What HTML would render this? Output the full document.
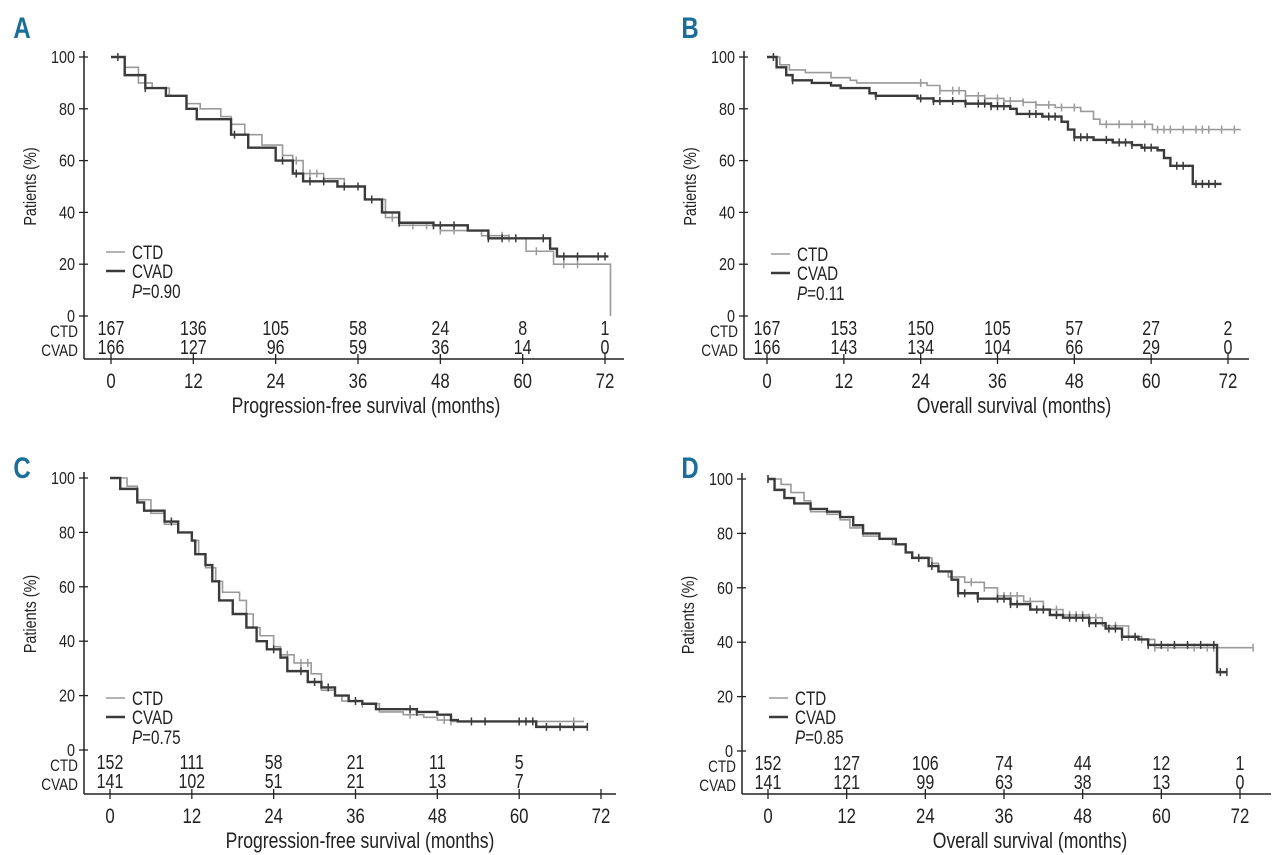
<!DOCTYPE html>
<html><head><meta charset="utf-8">
<style>
html,body{margin:0;padding:0;background:#fff;}
svg{display:block;font-family:"Liberation Sans",sans-serif;}
</style></head>
<body>
<svg id="fig" width="1280" height="855" viewBox="0 0 1280 855" xmlns="http://www.w3.org/2000/svg"></svg>
<script>
// ---- Panel A data (PFS) ----
const aCtdT = [0,2,4,6,8.5,11,13,16,17.5,19.5,22,25,26.5,28,31,34,37,40,42,48,54,58,60.5,64.5,72.8];
const aCtdS = [100,96,90,88,85,82,80,77,74,70,66,62,60,55,53,50,45,38,35,33,31,30,25,20,0];
const aCtdC = [27,29,30,41,44,46,48,50,57,58,62,66,68];
const aCvadT = [0,2,5,8,11,12.5,15,17.5,20,24,26.5,28,33,37,39.5,42,47,52,55,63.5,64,65,72.5];
const aCvadS = [100,93,88,85,80,76,76,70,65,60,55,52,50,45,40,36,35,33,30,30,26,23,23];
const aCvadC = [1,5,18,25,27,29,31,34,36,38,42,47,48,50,55,57,59,63,66,68,71,72];
const aAtRiskCtd = [167,136,105,58,24,8,1];
const aAtRiskCvad = [166,127,96,59,36,14,0];
// ---- Panel B data (OS) ----
const bCtdT = [0,2,3.5,6,10,13,14,24,25,27,31,34,37,40,42,45,49,51,52,60,60.2,74];
const bCtdS = [100,97,95,94,92,91,90,90,89,87,85,84,83,82.5,81.5,80.5,79,76,74,74,72,72];
const bCtdC = [24,27,29,30,31,33,34,36,38,40,42,44,46,48,53,55,57,59,61,62,63,65,67,68,69,71,73];
const bCvadT = [0,1.5,3,4,7,10,11.5,16,17,22,23.5,26,31,35,38,39,43,46,47,48,51,54,57,58.5,61,62,63,66.5,66.5,71];
const bCvadS = [100,96,93,91,90,89,88,86,85,85,84,83,82,81,80,78,77,75,72,69,68,67,66,65,64,61,58,58,51,51];
const bCvadC = [1,4,17,24,26,27,29,31,33,34,35,36,37,41,42,44,45,48,49,50,53,55,56,57,59,60,64,65,67,68,69,70];
const bAtRiskCtd = [167,153,150,105,57,27,2];
const bAtRiskCvad = [166,143,134,104,66,29,0];
// ---- Panel C data (PFS) ----
const cCtdT = [0,2.5,4,6,8,10,12,13,14,15.5,16.5,19,20,21,22,24,25,27,29.5,31,33,34,37,39.5,43,46,48,50,69.5];
const cCtdS = [100,97,92,87,83,80,77,72,67,62,58,55,50,45,42,38,35,32,28,22,20,18,17,14,13,12,11,10.5,10.5];
const cCtdC = [25,26,28,29,37,44,49,50,68];
const cCvadT = [0,1.5,4,5,8,10,12,12.5,14,15,16,18,20,21.5,23,25,26,29,31,33,35,37,39,45,48,50,51,62,62.5,70];
const cCvadS = [100,96,91,88,84,80,77,72,68,62,55,50,45,40,37,34,29,25,23,20,18,17,15,14,13,11,10.5,10.5,8.5,8.5];
const cCvadC = [9,24,28,30,32,36,44,45,53,55,60,61,62,64,66,68,70];
const cAtRiskCtd = [152,111,58,21,11,5];
const cAtRiskCvad = [141,102,51,21,13,7];
// ---- Panel D data (OS) ----
const dCtdT = [0,2,3.5,5.5,6.5,9,11,12.5,14.5,17,19,21,22,25,26,27.5,30,33,35,39,42,45,49,51,55,57,59,74];
const dCtdS = [100,98,95,92,88,87,85,82,79,78,76,73,71,69,66,64,62,60,57,55,52,50,49,46,42,41,38,38];
const dCtdC = [0,25,28,31,33,35,36,37,38,40,42,44,46,47,48,49,50,53,55,57,59,61,65,67,68,74];
const dCvadT = [0,1,2.5,4,6.5,9,11,13,14.5,17,19.5,21,22,24.5,26,28,29,32,37,40,43,45,49,51.5,54,56.5,58,68.5,68.5,70];
const dCvadS = [100,96,93,91,89,88,86,83,80,78,76,73,71,68,66,63,58,56,54,52,50,49,47,45,42,41,39,39,29,29];
const dCvadC = [0,23,25,29,30,32,35,36,37,38,41,42,44,46,47,48,49,50,52,53,54,56,58,60,62,64,66,68,69,70];
const dAtRiskCtd = [152,127,106,74,44,12,1];
const dAtRiskCvad = [141,121,99,63,38,13,0];

const xTicks = [0,12,24,36,48,60,72];
const yTicks = [0,20,40,60,80,100];

const NS = "http://www.w3.org/2000/svg";
const svg = document.getElementById('fig');
const SX = 0.8;
function mk(tag, attrs, parent, text){
  const e = document.createElementNS(NS, tag);
  for (const k in attrs) e.setAttribute(k, attrs[k]);
  if (text !== undefined) e.textContent = text;
  (parent||svg).appendChild(e);
  return e;
}
function txt(parent, x, y, size, anchor, str, extra){
  const a = {x:0, y:0, 'font-size':size, 'text-anchor':anchor, fill:'#222',
    transform:`translate(${x},${y}) scale(${SX},1)`};
  if (extra) for (const k in extra) a[k] = extra[k];
  return mk('text', a, parent, str);
}

const panels = [
  {id:'a',letter:'A',lx:22,ly:38,ax:84,x0:111,x72:605,xend:624,y100:57,y0:316,axY:359,title:'Progression-free survival (months)',tcx:366,
   legX:106,legY:252,p:'0.90',ctdT:aCtdT,ctdS:aCtdS,ctdC:aCtdC,cvT:aCvadT,cvS:aCvadS,cvC:aCvadC,rc:aAtRiskCtd,rv:aAtRiskCvad},
  {id:'b',letter:'B',lx:690,ly:38,ax:744,x0:767,x72:1228,xend:1249,y100:57,y0:316,axY:359,title:'Overall survival (months)',tcx:1014,
   legX:771,legY:254,p:'0.11',ctdT:bCtdT,ctdS:bCtdS,ctdC:bCtdC,cvT:bCvadT,cvS:bCvadS,cvC:bCvadC,rc:bAtRiskCtd,rv:bAtRiskCvad},
  {id:'c',letter:'C',lx:22,ly:478,ax:84,x0:110,x72:601,xend:616,y100:478,y0:750,axY:794,title:'Progression-free survival (months)',tcx:360,
   legX:106,legY:698,p:'0.75',ctdT:cCtdT,ctdS:cCtdS,ctdC:cCtdC,cvT:cCvadT,cvS:cCvadS,cvC:cCvadC,rc:cAtRiskCtd,rv:cAtRiskCvad},
  {id:'d',letter:'D',lx:690,ly:478,ax:742,x0:768,x72:1240,xend:1271,y100:479,y0:751,axY:794,title:'Overall survival (months)',tcx:1030,
   legX:769,legY:698,p:'0.85',ctdT:dCtdT,ctdS:dCtdS,ctdC:dCtdC,cvT:dCvadT,cvS:dCvadS,cvC:dCvadC,rc:dAtRiskCtd,rv:dAtRiskCvad}
];

function survAt(T,S,t){ let s=S[0]; for(let i=0;i<T.length;i++){ if(T[i]<=t) s=S[i]; } return s; }

panels.forEach(P=>{
  const g = mk('g',{});
  
  
  const X = m => P.x0 + (P.x72-P.x0)*m/72;
  const Y = v => P.y0 + (P.y100-P.y0)*v/100;
  const L = txt(g, P.lx, P.ly, 30, 'middle', P.letter, {'font-weight':'bold', fill:'#1a6e9a'});
  
  
  const ya = mk('line',{x1:P.ax,y1:P.y100-6,x2:P.ax,y2:P.axY,stroke:'#222','stroke-width':1.5},g);
  
  
  const xa = mk('line',{x1:P.ax,y1:P.axY,x2:P.xend,y2:P.axY,stroke:'#222','stroke-width':1.5},g);
  
  
  yTicks.forEach(v=>{
    mk('line',{x1:P.ax-5,y1:Y(v),x2:P.ax+4,y2:Y(v),stroke:'#222','stroke-width':1.3},g);
    const t = txt(g, P.ax-9, Y(v)+6, 18, 'end', String(v));
    
    
  });
  xTicks.forEach(m=>{
    mk('line',{x1:X(m),y1:P.axY-5,x2:X(m),y2:P.axY+5,stroke:'#222','stroke-width':1.3},g);
    const t = txt(g, X(m), P.axY+29, 21, 'middle', String(m));
    
    
  });
  const yt = mk('text',{x:0,y:0,'font-size':18,'text-anchor':'middle',fill:'#222',transform:`translate(${P.ax-48},${(P.y0+P.y100)/2}) rotate(-90) scale(${SX},1)`},g,'Patients (%)');
  
  
  const xt = txt(g, P.tcx, P.axY+54, 22, 'middle', P.title);
  
  
  const r1 = txt(g, P.ax-6, P.y0+21, 17, 'end', 'CTD');
  
  
  const r2 = txt(g, P.ax-6, P.y0+40, 17, 'end', 'CVAD');
  
  
  P.rc.forEach((n,i)=>{
    const t = txt(g, X(xTicks[i]), P.y0+19, 20, 'middle', String(n));
    
    
  });
  P.rv.forEach((n,i)=>{
    const t = txt(g, X(xTicks[i]), P.y0+38, 20, 'middle', String(n));
    
    
  });
  function curve(T,S,C,col,w,name){
    let d = `M${X(T[0])},${Y(S[0])}`;
    for(let i=1;i<T.length;i++){ d += ` H${X(T[i])} V${Y(S[i])}`; }
    const p = mk('path',{d:d,fill:'none',stroke:col,'stroke-width':w},g);
    
    
    C.forEach(t=>{
      const yy = Y(survAt(T,S,t));
      const c = mk('line',{x1:X(t),y1:yy-4,x2:X(t),y2:yy+4,stroke:col,'stroke-width':1.5},g);
      
      
    });
  }
  curve(P.ctdT,P.ctdS,P.ctdC,'#9a9a9a',1.6,'ctd');
  curve(P.cvT,P.cvS,P.cvC,'#3a3a3a',2.4,'cvad');
  const lg = mk('g',{},g);
  
  
  mk('line',{x1:P.legX,y1:P.legY,x2:P.legX+19,y2:P.legY,stroke:'#9a9a9a','stroke-width':1.6},lg);
  const l1 = txt(lg, P.legX+26, P.legY+7, 19, 'start', 'CTD');
  
  
  mk('line',{x1:P.legX,y1:P.legY+19,x2:P.legX+19,y2:P.legY+19,stroke:'#3a3a3a','stroke-width':2.6},lg);
  const l2 = txt(lg, P.legX+26, P.legY+26, 19, 'start', 'CVAD');
  
  
  const pt = txt(lg, P.legX+26, P.legY+46, 19, 'start');
  
  
  mk('tspan',{'font-style':'italic'},pt,'P');
  mk('tspan',{},pt,'='+P.p);
});
</script>
</body></html>
